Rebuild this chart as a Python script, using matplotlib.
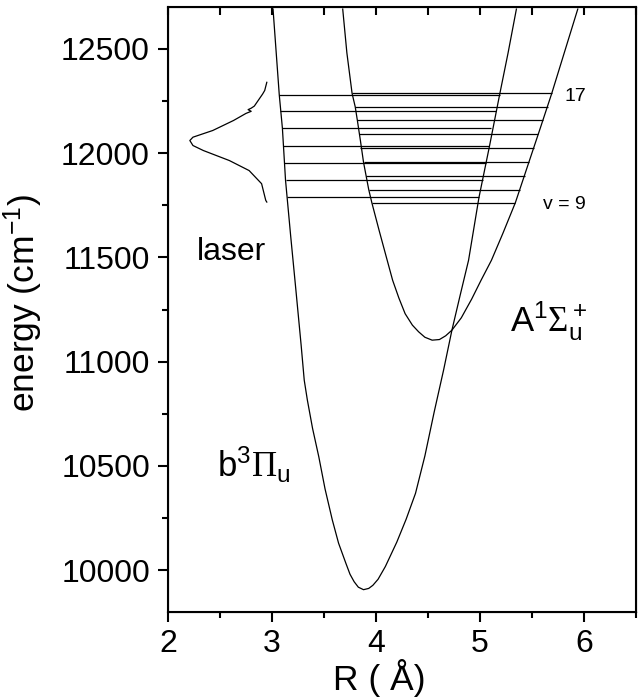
import numpy as np
import matplotlib
matplotlib.use("Agg")
import matplotlib.pyplot as plt
from matplotlib.ticker import MultipleLocator

plt.rcParams['font.family'] = ['Liberation Sans', 'DejaVu Sans']
plt.rcParams['mathtext.fontset'] = 'custom'
plt.rcParams['mathtext.rm'] = 'Liberation Sans'
plt.rcParams['mathtext.it'] = 'Liberation Sans'
plt.rcParams['mathtext.sf'] = 'Liberation Serif'  # serif greek letters, like the original

# b3Pi_u potential curve (R in A, E in cm-1)
b_R = [3.01, 3.07, 3.10, 3.13, 3.18, 3.23, 3.28, 3.31, 3.34, 3.39, 3.45, 3.51, 3.58,
       3.64, 3.71, 3.75, 3.79, 3.83, 3.88, 3.93, 3.97, 4.02, 4.09, 4.20, 4.29, 4.38,
       4.47, 4.56, 4.65, 4.73, 4.81, 4.89, 4.99, 5.09, 5.19, 5.27, 5.35]
b_E = [12690, 12278, 12119, 11870, 11600, 11342, 11080, 10911, 10816, 10680, 10544, 10390, 10241,
       10130, 10034, 9981, 9945, 9919, 9907, 9913, 9928, 9957, 10018, 10135, 10245, 10369,
       10548, 10760, 10960, 11151, 11320, 11486, 11787, 12030, 12283, 12480, 12690]

# A1Sigma_u+ potential curve
A_R = [3.68, 3.72, 3.77, 3.80, 3.82, 3.85, 3.88, 3.93, 3.96, 4.03, 4.10, 4.16, 4.22,
       4.28, 4.35, 4.41, 4.47, 4.54, 4.61, 4.67, 4.73, 4.82, 4.92, 5.01, 5.11, 5.22,
       5.34, 5.47, 5.58, 5.69, 5.81, 5.94]
A_E = [12690, 12480, 12286, 12222, 12159, 12060, 11956, 11825, 11762, 11629, 11500, 11390, 11305,
       11230, 11175, 11143, 11117, 11103, 11106, 11124, 11151, 11210, 11300, 11390, 11486, 11615,
       11762, 11956, 12120, 12286, 12480, 12690]

# vibrational levels of the b state
b_lev_E = [12278, 12200, 12119, 12036, 11953, 11870, 11787]
b_lev_left = [3.07, 3.08, 3.10, 3.11, 3.12, 3.13, 3.14]
b_lev_right = [5.19, 5.15, 5.11, 5.09, 5.06, 5.03, 4.99]

# vibrational levels of the A state, v = 17 ... 9
A_lev_E = [12286, 12222, 12159, 12092, 12025, 11956, 11892, 11825, 11762]
A_lev_left = [3.77, 3.80, 3.82, 3.84, 3.85, 3.88, 3.90, 3.93, 3.96]
A_lev_right = [5.69, 5.65, 5.61, 5.56, 5.52, 5.47, 5.43, 5.38, 5.34]

# laser spectral profile (drawn sideways)
laser_R = [2.95, 2.93, 2.91, 2.83, 2.80, 2.77, 2.80, 2.75, 2.63, 2.43, 2.24, 2.21,
           2.24, 2.34, 2.59, 2.78, 2.90, 2.94, 2.95]
laser_E = [12339, 12300, 12283, 12225, 12215, 12208, 12200, 12190, 12156, 12108, 12076, 12060,
           12036, 12012, 11964, 11916, 11853, 11773, 11765]

fig = plt.figure(figsize=(6.44, 6.98), dpi=100)
ax = fig.add_axes([168/644, 1 - 612/698, (636 - 168)/644, (612 - 7)/698])

lw = 0.9
ax.plot(b_R, b_E, color='black', lw=lw)
ax.plot(A_R, A_E, color='black', lw=lw)
ax.hlines(b_lev_E, b_lev_left, b_lev_right, color='black', lw=lw)
ax.hlines(A_lev_E, A_lev_left, A_lev_right, color='black', lw=lw)
ax.plot(laser_R, laser_E, color='black', lw=lw)

ax.text(2.28, 11486, 'laser', fontsize=23)
ax.text(2.47, 10449, r'b$^3\mathsf{\Pi}_u$', fontsize=25)
ax.text(5.29, 11147, r'A$^1\mathsf{\Sigma}_u^+$', fontsize=25)
ax.text(5.81, 12251, '17', fontsize=14)
ax.text(5.61, 11733, 'v = 9', fontsize=14)

ax.set_xlim(2, 6.5)
ax.set_ylim(9800, 12700)
ax.xaxis.set_major_locator(MultipleLocator(1))
ax.xaxis.set_minor_locator(MultipleLocator(0.5))
ax.yaxis.set_major_locator(MultipleLocator(500))
ax.yaxis.set_minor_locator(MultipleLocator(250))

for s in ax.spines.values():
    s.set_linewidth(1.5)
ax.tick_params(which='both', direction='out', width=1.5, labelsize=23)
ax.tick_params(which='major', length=7)
ax.tick_params(which='minor', length=4)
ax.tick_params(axis='x', pad=5)
ax.tick_params(axis='y', pad=6)

# inward ticks along the top edge
top = ax.twiny()
top.set_xlim(ax.get_xlim())
top.xaxis.set_major_locator(MultipleLocator(1))
top.xaxis.set_minor_locator(MultipleLocator(0.5))
top.tick_params(axis='x', which='both', top=True, bottom=False, labeltop=False,
                direction='in', width=1.5, length=6, color='black')

ax.set_xlabel(u'R ( \u00c5)', fontsize=25.5)
ax.set_ylabel(r'energy (cm$^{-1}$)', fontsize=25.5)
ax.xaxis.set_label_coords(0.451, -0.077)
ax.yaxis.set_label_coords(-0.263, 0.51)

fig.savefig('out.png', dpi=100)
